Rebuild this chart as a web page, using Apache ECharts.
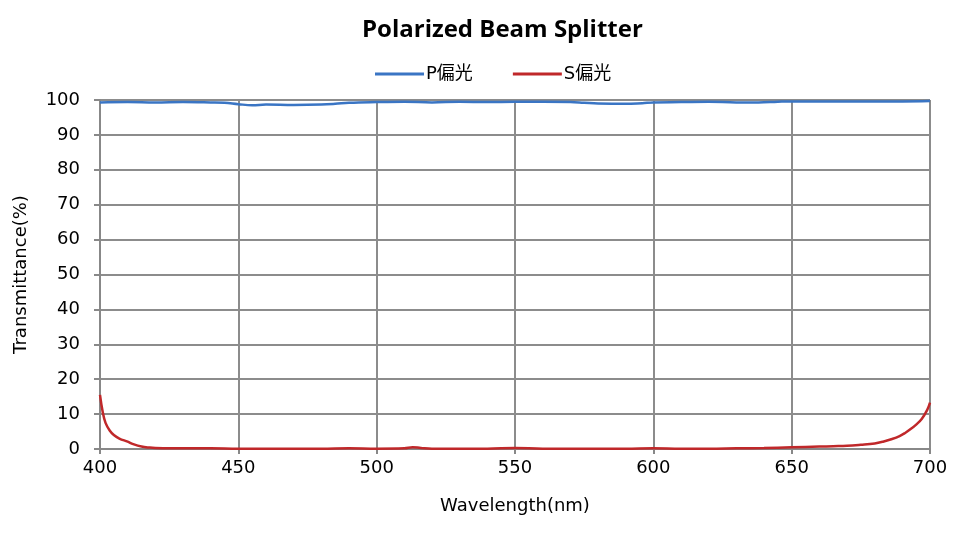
<!DOCTYPE html>
<html><head><meta charset="utf-8">
<script src="https://cdn.jsdelivr.net/npm/echarts@6/dist/echarts.min.js"></script>
<style>html,body{margin:0;padding:0;background:#fff}#c{width:960px;height:540px}</style>
</head><body><div id="c"></div>
<script>
var title = 'Polarized Beam Splitter';
var seriesNames = ['P偏光', 'S偏光'];
var xTicks = [400, 450, 500, 550, 600, 650, 700];
var yTicks = [0, 10, 20, 30, 40, 50, 60, 70, 80, 90, 100];
var pWave = [400, 410, 420, 430, 440, 445, 450, 455, 460, 470, 480, 485, 490, 500, 510, 520, 530, 540, 550, 560, 570, 575, 580, 590, 596, 600, 610, 620, 630, 638, 645, 650, 660, 670, 680, 690, 700];
var pVals = [99.3, 99.4, 99.3, 99.4, 99.3, 99.2, 98.8, 98.5, 98.7, 98.6, 98.7, 98.9, 99.2, 99.4, 99.5, 99.3, 99.5, 99.4, 99.5, 99.5, 99.4, 99.2, 99.0, 98.9, 99.1, 99.3, 99.4, 99.5, 99.3, 99.3, 99.5, 99.6, 99.6, 99.6, 99.6, 99.6, 99.7];
var sWave = [400, 401, 402, 403.5, 405, 407, 410, 412, 415, 418, 420, 430, 440, 450, 460, 470, 480, 490, 500, 510, 513, 516, 520, 530, 540, 550, 560, 570, 580, 590, 600, 610, 620, 630, 640, 650, 660, 665, 670, 675, 680, 683, 686, 689, 691, 693, 695, 697, 699, 700];
var sVals = [15.5, 10.5, 7.5, 5.3, 4.0, 3.0, 2.1, 1.4, 0.7, 0.4, 0.3, 0.2, 0.2, 0.1, 0.1, 0.1, 0.1, 0.2, 0.1, 0.2, 0.5, 0.3, 0.1, 0.1, 0.1, 0.3, 0.1, 0.1, 0.1, 0.1, 0.2, 0.1, 0.1, 0.2, 0.3, 0.5, 0.7, 0.8, 0.9, 1.2, 1.6, 2.1, 2.8, 3.7, 4.6, 5.7, 7.0, 8.6, 11.2, 13.3];

function pairs(xs, ys){ return xs.map(function(x,i){ return [x, ys[i]]; }); }

var chart = echarts.init(document.getElementById('c'), null, {renderer:'canvas'});
var labelFont = '"DejaVu Sans", "Noto Sans CJK JP", sans-serif';
chart.setOption({
  animation: false,
  backgroundColor: '#ffffff',
  title: {
    text: title, left: 357, top: 13,
    textStyle: {fontFamily: '"Open Sans", Lato, sans-serif', fontWeight: 'bold', fontSize: 24, color: '#000'}
  },
  legend: {
    top: 60, left: 370, itemWidth: 49, itemHeight: 3, itemGap: 40,
    icon: 'rect',
    textStyle: {fontFamily: labelFont, fontSize: 18, color: '#000', padding: [0,0,0,-3]},
    data: seriesNames
  },
  grid: {left: 100, right: 30, top: 100, bottom: 91},
  xAxis: {
    type: 'value', min: xTicks[0], max: xTicks[xTicks.length-1], interval: 50,
    name: 'Wavelength(nm)', nameLocation: 'middle', nameGap: 48,
    nameTextStyle: {fontFamily: labelFont, fontSize: 18, color: '#000'},
    axisLine: {show: true, lineStyle: {color: '#888', width: 2}},
    axisTick: {show: true, length: 5, lineStyle: {color: '#888', width: 2}},
    axisLabel: {fontFamily: labelFont, fontSize: 18, color: '#000', margin: 10},
    splitLine: {show: true, lineStyle: {color: '#8c8c8c', width: 2}}
  },
  yAxis: {
    type: 'value', min: yTicks[0], max: yTicks[yTicks.length-1], interval: 10,
    name: 'Transmittance(%)', nameLocation: 'middle', nameGap: 70, nameRotate: 90,
    nameTextStyle: {fontFamily: labelFont, fontSize: 18, color: '#000'},
    axisLine: {show: true, lineStyle: {color: '#888', width: 2}},
    axisTick: {show: true, length: 6, lineStyle: {color: '#888', width: 2}},
    axisLabel: {fontFamily: labelFont, fontSize: 18, color: '#000', margin: 20},
    splitLine: {show: true, lineStyle: {color: '#8c8c8c', width: 2}}
  },
  series: [
    {name: seriesNames[0], type: 'line', data: pairs(pWave, pVals), smooth: 0.4, showSymbol: false, symbol: 'none',
     lineStyle: {color: '#3a75c4', width: 2.5}, itemStyle: {color: '#3a75c4'}},
    {name: seriesNames[1], type: 'line', data: pairs(sWave, sVals), smooth: 0.4, showSymbol: false, symbol: 'none',
     lineStyle: {color: '#c0282a', width: 2.5}, itemStyle: {color: '#c0282a'}}
  ]
});
</script></body></html>
